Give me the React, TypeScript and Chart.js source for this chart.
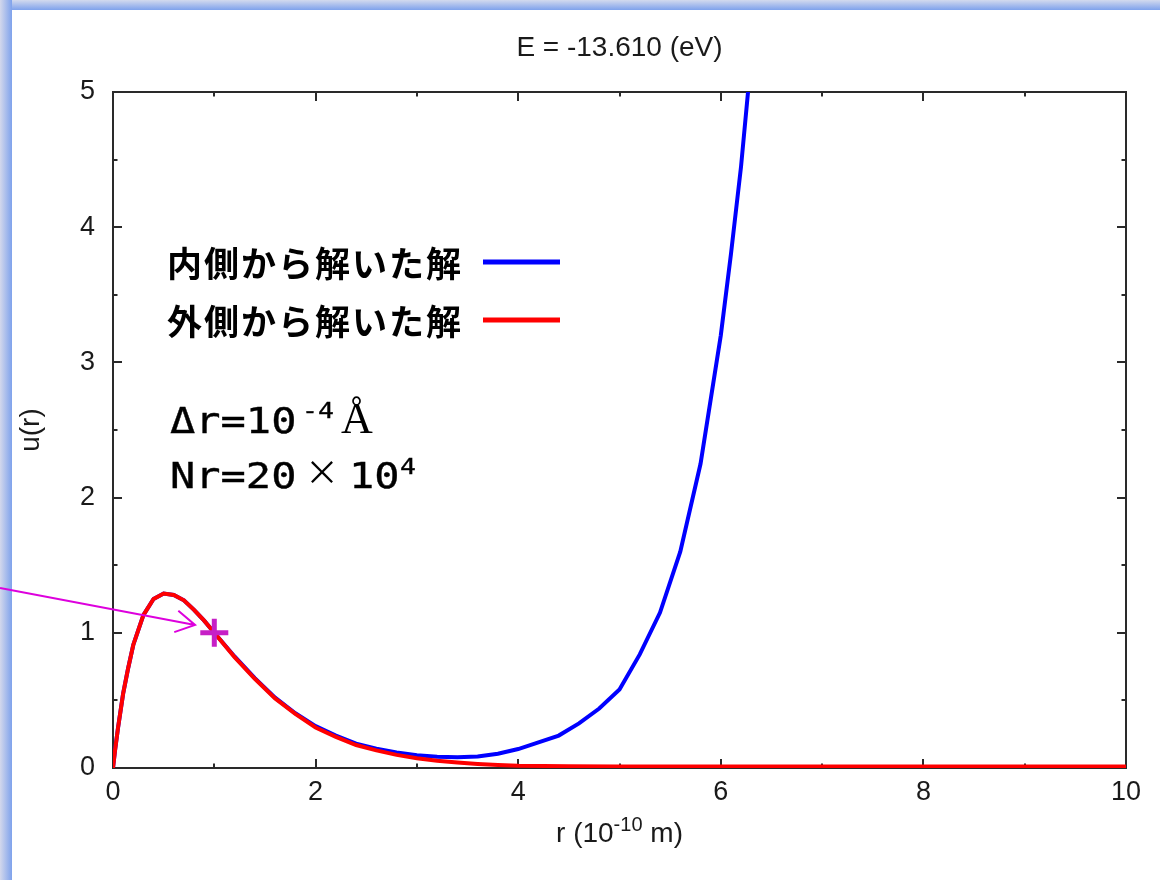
import React, { useEffect, useRef } from "react";
import { Chart, registerables } from "chart.js";

Chart.register(...registerables);

// ---- data ----
const titleText = "E = -13.610 (eV)";
const legendLabels = ["内側から解いた解", "外側から解いた解"];
const legendColors = ["#0000ff", "#ff0000"];

// outer solution (red), r in 1e-10 m
const outerR = [0, 0.02, 0.05, 0.1, 0.15, 0.2, 0.3, 0.4, 0.5, 0.6, 0.7, 0.8, 0.9, 1.0, 1.2, 1.4, 1.6, 1.8, 2.0, 2.2, 2.4, 2.6, 2.8, 3.0, 3.2, 3.4, 3.6, 3.8, 4.0, 4.5, 5, 6, 7, 8, 9, 10];
const outerU = [0, 0.13, 0.3, 0.55, 0.74, 0.91, 1.13, 1.25, 1.29, 1.28, 1.24, 1.17, 1.09, 1.0, 0.82, 0.66, 0.515, 0.4, 0.3, 0.23, 0.17, 0.13, 0.097, 0.072, 0.053, 0.04, 0.03, 0.022, 0.017, 0.013, 0.012, 0.012, 0.012, 0.012, 0.012, 0.012];

// inner solution (blue)
const innerR = [0, 0.02, 0.05, 0.1, 0.15, 0.2, 0.3, 0.4, 0.5, 0.6, 0.7, 0.8, 0.9, 1.0, 1.2, 1.4, 1.6, 1.8, 2.0, 2.2, 2.4, 2.6, 2.8, 3.0, 3.2, 3.4, 3.6, 3.8, 4.0, 4.2, 4.4, 4.6, 4.8, 5.0, 5.2, 5.4, 5.6, 5.8, 6.0, 6.1, 6.2, 6.3];
const innerU = [0, 0.13, 0.3, 0.55, 0.74, 0.91, 1.13, 1.25, 1.29, 1.28, 1.24, 1.17, 1.09, 1.0, 0.825, 0.665, 0.52, 0.405, 0.31, 0.24, 0.18, 0.143, 0.115, 0.095, 0.083, 0.08, 0.085, 0.105, 0.14, 0.19, 0.24, 0.33, 0.44, 0.58, 0.84, 1.15, 1.6, 2.25, 3.2, 3.8, 4.45, 5.25];

// matching point marker and arrow (data coordinates)
const markerR = [1.0];
const markerU = [1.0];
const arrowFrom = [-1.115, 1.331];
const arrowTo = [0.81, 1.058];

const xMin = 0, xMax = 10, xStep = 2;
const yMin = 0, yMax = 5, yStep = 1;

const SANS = '"Liberation Sans", Arial, sans-serif';

const decorPlugin = {
  id: "decor",
  beforeDraw(chart: any) {
    const ctx = chart.ctx;
    const W = chart.width, H = chart.height;
    ctx.save();
    ctx.fillStyle = "#ffffff";
    ctx.fillRect(0, 0, W, H);
    let g = ctx.createLinearGradient(0, 0, 0, 10);
    g.addColorStop(0, "#d3daee");
    g.addColorStop(1, "#7fa2ec");
    ctx.fillStyle = g;
    ctx.fillRect(0, 0, W, 10);
    g = ctx.createLinearGradient(0, 0, 12, 0);
    g.addColorStop(0, "#d3d8ec");
    g.addColorStop(1, "#7fa2ec");
    ctx.fillStyle = g;
    ctx.fillRect(0, 0, 12, H);
    ctx.restore();
  },
  beforeDatasetsDraw(chart: any) {
    const ctx = chart.ctx;
    const { left, right, top, bottom } = chart.chartArea;
    const xs = chart.scales.x, ys = chart.scales.y;
    ctx.save();
    ctx.strokeStyle = "#2a2a2a";
    ctx.lineWidth = 2;
    ctx.strokeRect(left, top, right - left, bottom - top);
    const major = 9, minor = 4.5;
    for (let v = xMin; v <= xMax + 1e-9; v += xStep / 2) {
      const px = Math.round(xs.getPixelForValue(v));
      const isMajor = Math.abs((v - xMin) / xStep - Math.round((v - xMin) / xStep)) < 1e-6;
      const len = isMajor ? major : minor;
      ctx.beginPath();
      ctx.moveTo(px, bottom); ctx.lineTo(px, bottom - len);
      ctx.moveTo(px, top); ctx.lineTo(px, top + len);
      ctx.stroke();
    }
    for (let v = yMin; v <= yMax + 1e-9; v += yStep / 2) {
      const py = Math.round(ys.getPixelForValue(v));
      const isMajor = Math.abs((v - yMin) / yStep - Math.round((v - yMin) / yStep)) < 1e-6;
      const len = isMajor ? major : minor;
      ctx.beginPath();
      ctx.moveTo(left, py); ctx.lineTo(left + len, py);
      ctx.moveTo(right, py); ctx.lineTo(right - len, py);
      ctx.stroke();
    }
    ctx.restore();
  },
  afterDraw(chart: any) {
    const ctx = chart.ctx;
    const { left, right, top, bottom } = chart.chartArea;
    const xs = chart.scales.x, ys = chart.scales.y;
    const cx = (left + right) / 2;
    ctx.save();
    ctx.fillStyle = "#1a1a1a";
    // title
    ctx.font = `28px ${SANS}`;
    ctx.textAlign = "center";
    ctx.textBaseline = "middle";
    ctx.fillText(titleText, cx, 48);

    // x axis title with superscript
    const base1 = "r (10", sup = "-10", base2 = " m)";
    ctx.font = `28px ${SANS}`;
    const w1 = ctx.measureText(base1).width;
    const w3 = ctx.measureText(base2).width;
    ctx.font = `20px ${SANS}`;
    const w2 = ctx.measureText(sup).width;
    const x0 = cx - (w1 + w2 + w3) / 2;
    const yb = 842;
    ctx.textAlign = "left";
    ctx.textBaseline = "alphabetic";
    ctx.font = `28px ${SANS}`;
    ctx.fillText(base1, x0, yb);
    ctx.font = `20px ${SANS}`;
    ctx.fillText(sup, x0 + w1, yb - 11);
    ctx.font = `28px ${SANS}`;
    ctx.fillText(base2, x0 + w1 + w2, yb);

    // y axis title
    ctx.save();
    ctx.translate(31, (top + bottom) / 2);
    ctx.rotate(-Math.PI / 2);
    ctx.textAlign = "center";
    ctx.textBaseline = "middle";
    ctx.font = `28px ${SANS}`;
    ctx.fillText("u(r)", 0, 0);
    ctx.restore();

    // legend
    const legY = [264, 322];
    ctx.textAlign = "left";
    ctx.textBaseline = "middle";
    ctx.font = `bold 35px "Noto Sans CJK JP"`;
    (ctx as any).letterSpacing = "2px";
    legendLabels.forEach((t, i) => {
      ctx.fillStyle = "#000";
      ctx.fillText(t, 167, legY[i]);
      ctx.strokeStyle = legendColors[i];
      ctx.lineWidth = 5;
      ctx.beginPath();
      ctx.moveTo(483, legY[i] - 2);
      ctx.lineTo(560, legY[i] - 2);
      ctx.stroke();
    });
    (ctx as any).letterSpacing = "0px";

    // Δr / Nr annotation
    ctx.fillStyle = "#000";
    ctx.strokeStyle = "#000";
    ctx.lineWidth = 0.35;
    ctx.textBaseline = "alphabetic";
    const mono = (txt: string, x: number, y: number, size: number) => {
      ctx.save();
      ctx.translate(x, y);
      ctx.scale(1.2, 1);
      ctx.font = `${size}px "DejaVu Sans Mono"`;
      ctx.fillText(txt, 0, 0);
      ctx.strokeText(txt, 0, 0);
      ctx.restore();
    };
    mono("Δr=10", 170, 433, 35);
    mono("-4", 302, 418, 22);
    ctx.font = `44px "Liberation Serif"`;
    ctx.fillText("Å", 341, 433);
    mono("Nr=20", 170, 488, 35);
    ctx.font = `34px "Noto Sans CJK JP"`;
    ctx.textAlign = "center";
    ctx.fillText("×", 322, 485);
    ctx.textAlign = "left";
    mono("10", 349, 488, 35);
    mono("4", 400, 474, 22);

    // arrow
    const ax0 = xs.getPixelForValue(arrowFrom[0]), ay0 = ys.getPixelForValue(arrowFrom[1]);
    const ax1 = xs.getPixelForValue(arrowTo[0]), ay1 = ys.getPixelForValue(arrowTo[1]);
    ctx.strokeStyle = "#dd00dd";
    ctx.lineWidth = 2;
    ctx.beginPath();
    ctx.moveTo(ax0, ay0);
    ctx.lineTo(ax1, ay1);
    const ang = Math.atan2(ay1 - ay0, ax1 - ax0);
    const hl = 22, ha = 0.52;
    ctx.moveTo(ax1 - hl * Math.cos(ang - ha), ay1 - hl * Math.sin(ang - ha));
    ctx.lineTo(ax1, ay1);
    ctx.lineTo(ax1 - hl * Math.cos(ang + ha), ay1 - hl * Math.sin(ang + ha));
    ctx.stroke();
    ctx.restore();
  },
};

export default function App() {
  const ref = useRef<HTMLCanvasElement | null>(null);
  useEffect(() => {
    document.body.style.margin = "0";
    const canvas = ref.current;
    if (!canvas) return;
    const outer = outerR.map((r, i) => ({ x: r, y: outerU[i] }));
    const inner = innerR.map((r, i) => ({ x: r, y: innerU[i] }));
    const marker = markerR.map((r, i) => ({ x: r, y: markerU[i] }));
    const tickFont = { family: SANS, size: 27 };
    const chart = new Chart(canvas, {
      type: "line",
      data: {
        datasets: [
          {
            type: "scatter",
            label: "marker",
            data: marker,
            pointStyle: "cross",
            pointRadius: 14,
            pointBorderWidth: 5,
            borderColor: "#c61fc6",
            backgroundColor: "#c61fc6",
            showLine: false,
            clip: false,
            order: 0,
          } as any,
          {
            label: legendLabels[1],
            data: outer,
            borderColor: legendColors[1],
            borderWidth: 4,
            pointRadius: 0,
            tension: 0,
            fill: false,
            order: 1,
          },
          {
            label: legendLabels[0],
            data: inner,
            borderColor: legendColors[0],
            borderWidth: 4,
            pointRadius: 0,
            tension: 0,
            fill: false,
            order: 2,
          },
        ],
      },
      options: {
        animation: false,
        responsive: false,
        events: [],
        layout: { padding: { left: 0, top: 92, right: 34, bottom: 0 } },
        plugins: {
          legend: { display: false },
          tooltip: { enabled: false },
          title: { display: false },
        },
        scales: {
          x: {
            type: "linear",
            min: xMin,
            max: xMax,
            ticks: { stepSize: xStep, font: tickFont, color: "#1a1a1a", padding: 8, maxRotation: 0 },
            grid: { display: false, drawTicks: false },
            border: { display: false },
            afterFit: (s: any) => { s.height = 112; },
          },
          y: {
            type: "linear",
            min: yMin,
            max: yMax,
            ticks: { stepSize: yStep, font: tickFont, color: "#1a1a1a", padding: 18 },
            grid: { display: false, drawTicks: false },
            border: { display: false },
            afterFit: (s: any) => { s.width = 113; },
          },
        },
      } as any,
      plugins: [decorPlugin],
    });
    return () => chart.destroy();
  }, []);
  return (
    <div style={{ width: 1160, height: 880, position: "relative" }}>
      <canvas ref={ref} width={1160} height={880} style={{ display: "block", width: 1160, height: 880 }} />
    </div>
  );
}
